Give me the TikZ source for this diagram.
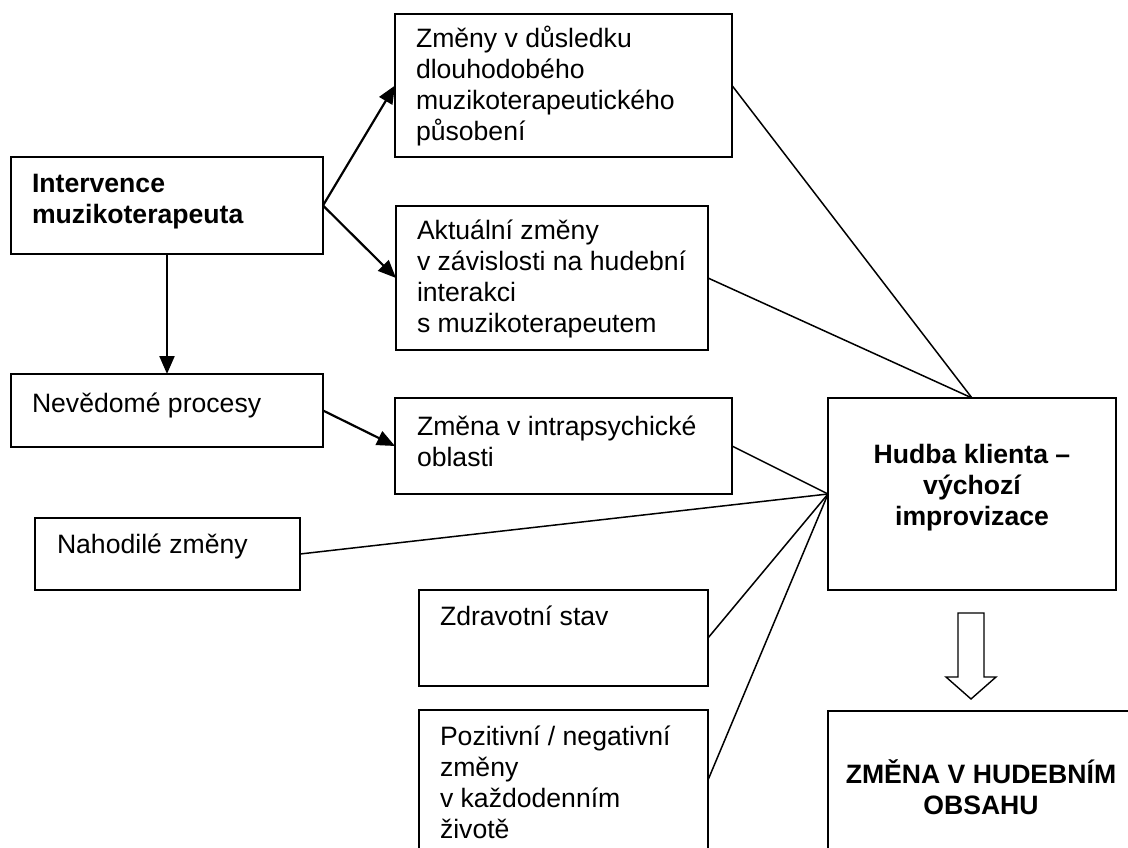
\documentclass[tikz,border=0pt]{standalone}
\usepackage{fontspec}
\setmainfont{Liberation Sans}
\usetikzlibrary{arrows.meta}

% stacked text lines with a fixed line pitch; the node's base is the first baseline
\newcommand\leftrows[1]{\vtop{\baselineskip=31pt\lineskiplimit=-20pt\halign{##\hfil\cr#1\crcr}}}
\newcommand\midrows[1]{\vtop{\baselineskip=31pt\lineskiplimit=-20pt\halign{\hfil##\hfil\cr#1\crcr}}}

\tikzset{
  box/.style={draw=black, line width=1.6pt, fill=white, rectangle, inner sep=0pt, outer sep=0pt, anchor=north west},
  txt/.style={inner sep=0pt, outer sep=0pt, font=\fontsize{26.6}{31}\selectfont},
  boldtxt/.style={txt, font=\fontsize{26.6}{31}\selectfont\bfseries},
  link/.style={draw=black, line width=1.5pt},
  flow/.style={draw=black, line width=2.2pt, -{Triangle[length=18pt,width=15pt]}},
  hollow/.style={draw=black, line width=1.4pt, fill=white, line join=miter}
}

\begin{document}
\begin{tikzpicture}[x=1pt, y=-1pt]
  \useasboundingbox (0,0) rectangle (1128,848);
  \clip (0,0) rectangle (1128,848);

  % boxes: (left, top), width, height
  \node[box, minimum width=337pt, minimum height=143pt] (zmeny)    at (395,14)  {};
  \node[box, minimum width=312pt, minimum height=144pt] (aktual)   at (396,206) {};
  \node[box, minimum width=312pt, minimum height=97pt]  (interv)   at (11,157)  {};
  \node[box, minimum width=312pt, minimum height=73pt]  (nevedome) at (11,374)  {};
  \node[box, minimum width=337pt, minimum height=96pt]  (intra)    at (395,398) {};
  \node[box, minimum width=265pt, minimum height=72pt]  (nahod)    at (35,518)  {};
  \node[box, minimum width=288pt, minimum height=192pt] (hudba)    at (828,398) {};
  \node[box, minimum width=289pt, minimum height=96pt]  (zdrav)    at (419,590) {};
  \node[box, minimum width=289pt, minimum height=140pt] (pozit)    at (419,710) {};
  \node[box, minimum width=306pt, minimum height=170pt] (zmena)    at (828,711) {};

  % box texts
  \node[txt, anchor=base west] (zmeny-t) at (416,48)
    {\leftrows{Změny v důsledku\cr dlouhodobého\cr muzikoterapeutického\cr působení}};
  \node[txt, anchor=base west] (aktual-t) at (417,240)
    {\leftrows{Aktuální změny\cr v závislosti na hudební\cr interakci\cr s muzikoterapeutem}};
  \node[boldtxt, anchor=base west] (interv-t) at (32,193)
    {\leftrows{Intervence\cr muzikoterapeuta}};
  \node[txt, anchor=base west] (nevedome-t) at (32,412) {Nevědomé procesy};
  \node[txt, anchor=base west] (intra-t) at (417,435)
    {\leftrows{Změna v intrapsychické\cr oblasti}};
  \node[txt, anchor=base west] (nahod-t) at (57,553) {Nahodilé změny};
  \node[txt, anchor=base west] (zdrav-t) at (440,625) {Zdravotní stav};
  \node[txt, anchor=base west] (pozit-t) at (440,745)
    {\leftrows{Pozitivní / negativní\cr změny\cr v každodenním\cr životě}};
  \node[boldtxt, anchor=base] (hudba-t) at (972,463)
    {\midrows{Hudba klienta –\cr výchozí\cr improvizace}};
  \node[boldtxt, anchor=base] (zmena-t) at (981,783)
    {\midrows{ZMĚNA V HUDEBNÍM\cr OBSAHU}};

  % arrows from the therapist's intervention
  \draw[flow] (interv.east) -- (zmeny.west);
  \draw[flow] (interv.east) -- (aktual.west);
  \draw[flow] (interv.south) -- (nevedome.north);
  \draw[flow] (nevedome.east) -- (intra.west);

  % influences on the client's music
  \draw[link] (zmeny.east)  -- (hudba.north);
  \draw[link] (aktual.east) -- (hudba.north);
  \draw[link] (intra.east)  -- (hudba.west);
  \draw[link] (nahod.east)  -- (hudba.west);
  \draw[link] (zdrav.east)  -- (hudba.west);
  \draw[link] (pozit.east)  -- (hudba.west);

  % hollow block arrow down to the change in musical content
  \draw[hollow] (958,613) -- (984,613) -- (984,677) -- (996,677) -- (971,699)
    -- (946,677) -- (958,677) -- cycle;
\end{tikzpicture}
\end{document}
